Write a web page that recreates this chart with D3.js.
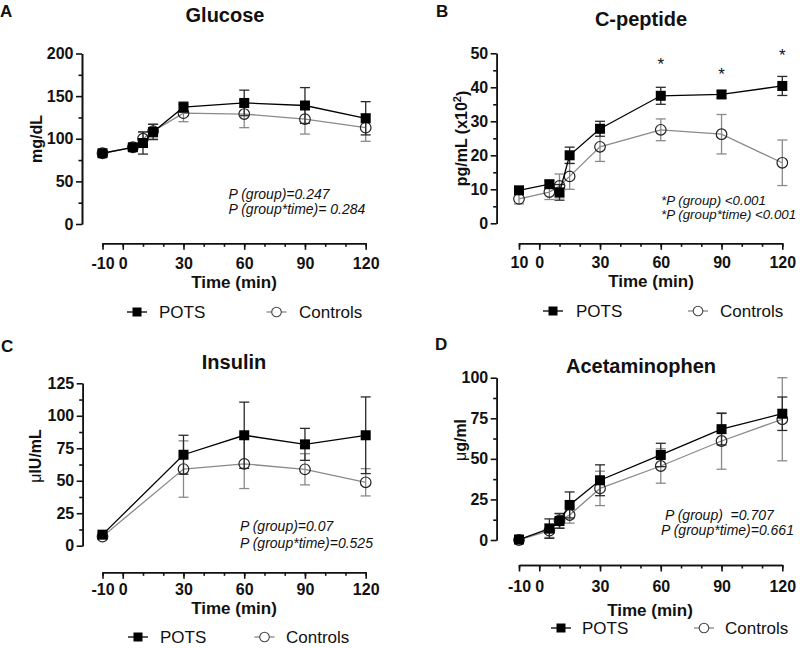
<!DOCTYPE html>
<html>
<head>
<meta charset="utf-8">
<script src="https://cdn.jsdelivr.net/npm/d3@7"></script>
<style>
html,body{margin:0;padding:0;background:#fff;}
svg{display:block;font-family:"Liberation Sans",Arial,Helvetica,sans-serif;}
</style>
</head>
<body>
<svg id="chart" width="800" height="648"></svg>
<script>
// ---------- DATA ----------
const times = [-10, 5, 10, 15, 30, 60, 90, 120];
const insulinTimes = [-10, 30, 60, 90, 120];
const xMinorTicks = [-10, 0, 10, 20, 30, 40, 50, 60, 70, 80, 90, 100, 110, 120];
const xMajorTicks = [-10, 0, 30, 60, 90, 120];
const xTickLabels = ["-10", "0", "30", "60", "90", "120"];
const xTickLabelsB = ["10", "0", "30", "60", "90", "120"];
const seriesNames = ["POTS", "Controls"];

// Glucose (mg/dL)
const glucosePOTS = [83, 90, 95, 108, 137, 142, 139, 124];
const glucosePOTSerr = [3, 4, 13, 9, 6, 15, 21, 19.5];
const glucoseCtrl = [83, 90, 100, 109, 130, 129, 123, 113];
const glucoseCtrlErr = [3, 4, 8, 8, 10, 16, 17.5, 16];
const glucoseTicks = [0, 50, 100, 150, 200];
const glucoseMinor = [25, 75, 125, 175];

// C-peptide (pg/mL x10^2)
const cpepPOTS = [9.7, 11.5, 9.1, 20, 27.8, 37.5, 37.9, 40.4];
const cpepPOTSerr = [0.8, 1, 2.3, 2.4, 2.2, 2.5, 1, 2.8];
const cpepCtrl = [7.2, 9.2, 11, 13.8, 22.5, 27.5, 26.2, 17.8];
const cpepCtrlErr = [1.5, 2.2, 3.5, 3.8, 4.3, 3.2, 5.8, 6.7];
const cpepTicks = [0, 10, 20, 30, 40, 50];
const cpepMinor = [5, 15, 25, 35, 45];
const cpepStarTimes = [60, 90, 120];
const cpepStarValues = [47.5, 44.5, 50.2];

// Insulin (µIU/mL)
const insulinPOTS = [8.5, 70, 85, 78, 85];
const insulinPOTSerr = [2, 15, 25.5, 12.3, 29.5];
const insulinCtrl = [7, 59, 63, 58.8, 48.8];
const insulinCtrlErr = [1.5, 21.7, 19, 12, 10.5];
const insulinTicks = [0, 25, 50, 75, 100, 125];
const insulinMinor = [12.5, 37.5, 62.5, 87.5, 112.5];

// Acetaminophen (µg/ml)
const acetPOTS = [0.3, 7, 11.7, 21.6, 36.8, 52.4, 68.3, 77.8];
const acetPOTSerr = [0.5, 6, 4.5, 8, 9.5, 7.2, 9.7, 10.3];
const acetCtrl = [0, 5.8, 12, 15.4, 31.8, 45.6, 61, 74.4];
const acetCtrlErr = [0.5, 4.2, 4.5, 5, 10.6, 10.6, 17.4, 25.6];
const acetTicks = [0, 25, 50, 75, 100];
const acetMinor = [12.5, 37.5, 62.5, 87.5];

// ---------- DRAW ----------
const svg = d3.select("#chart");
const FONT = '"Liberation Sans",Arial,Helvetica,sans-serif';

function panel(cfg) {
  const g = svg.append("g");
  const x = d3.scaleLinear().domain([-10, 120]).range(cfg.xRange);
  const y = d3.scaleLinear().domain(cfg.yDomain).range(cfg.yRange);

  // x axis (minor + major)
  const xMinor = d3.axisBottom(x).tickValues(xMinorTicks).tickSize(3.5).tickSizeOuter(0).tickFormat("");
  const xMajor = d3.axisBottom(x).tickValues(xMajorTicks).tickSize(6.5).tickSizeOuter(0)
    .tickPadding(cfg.xLabelOffset - 6.5 - 0.71 * 16)
    .tickFormat((d, i) => cfg.xLabels[i]);
  const gxm = g.append("g").attr("transform", `translate(0,${cfg.xAxisY})`).call(xMinor);
  const gx = g.append("g").attr("transform", `translate(0,${cfg.xAxisY})`).call(xMajor);
  [gxm, gx].forEach(a => {
    a.selectAll("path,line").attr("stroke", "#111").attr("stroke-width", 1.6);
    a.selectAll("text").attr("font-family", FONT).attr("font-size", 16).attr("font-weight", "bold").attr("fill", "#111");
  });

  // y axis (minor + major)
  const yMinor = d3.axisLeft(y).tickValues(cfg.yMinor).tickSize(3.5).tickSizeOuter(0).tickFormat("");
  const yMajor = d3.axisLeft(y).tickValues(cfg.yTicks).tickSize(6).tickSizeOuter(0).tickPadding(2.5);
  const gym = g.append("g").attr("transform", `translate(${cfg.yAxisX},0)`).call(yMinor);
  const gy = g.append("g").attr("transform", `translate(${cfg.yAxisX},0)`).call(yMajor);
  [gym, gy].forEach(a => {
    a.selectAll("path,line").attr("stroke", "#111").attr("stroke-width", 1.6);
    a.selectAll("text").attr("font-family", FONT).attr("font-size", 16).attr("font-weight", "bold").attr("fill", "#111");
  });

  const line = d3.line().x(d => x(d.t)).y(d => y(d.v));
  const mk = (ts, vs, es) => ts.map((t, i) => ({ t: t, v: vs[i], e: es[i] }));
  const ctrl = mk(cfg.times, cfg.ctrl, cfg.ctrlErr);
  const pots = mk(cfg.times, cfg.pots, cfg.potsErr);

  function errorBars(data, color) {
    const eg = g.append("g").attr("stroke", color).attr("stroke-width", 1.3).attr("fill", "none");
    data.forEach(d => {
      const x0 = x(d.t), y1 = y(d.v - d.e), y2 = y(d.v + d.e);
      eg.append("line").attr("x1", x0).attr("x2", x0).attr("y1", y1).attr("y2", y2);
      eg.append("line").attr("x1", x0 - 5).attr("x2", x0 + 5).attr("y1", y1).attr("y2", y1);
      eg.append("line").attr("x1", x0 - 5).attr("x2", x0 + 5).attr("y1", y2).attr("y2", y2);
    });
  }

  // Controls
  errorBars(ctrl, "#8a8a8a");
  g.append("path").datum(ctrl).attr("d", line).attr("fill", "none").attr("stroke", "#8a8a8a").attr("stroke-width", 1.3);
  g.append("g").selectAll("circle").data(ctrl).join("circle")
    .attr("cx", d => x(d.t)).attr("cy", d => y(d.v)).attr("r", 5.3)
    .attr("fill", "none").attr("stroke", "#222").attr("stroke-width", 1.2);

  // POTS
  errorBars(pots, "#2a2a2a");
  g.append("path").datum(pots).attr("d", line).attr("fill", "none").attr("stroke", "#000").attr("stroke-width", 1.3);
  g.append("g").selectAll("rect").data(pots).join("rect")
    .attr("x", d => x(d.t) - 5).attr("y", d => y(d.v) - 5).attr("width", 10).attr("height", 10)
    .attr("fill", "#000");

  // titles
  g.append("text").attr("x", cfg.titleX).attr("y", cfg.titleY).attr("text-anchor", "middle")
    .attr("font-size", 20).attr("font-weight", "bold").attr("fill", "#111").text(cfg.title);
  g.append("text").attr("x", cfg.letterX).attr("y", cfg.letterY)
    .attr("font-size", 17).attr("font-weight", "bold").attr("fill", "#111").text(cfg.letter);

  // y-axis title
  const yt = g.append("text").attr("transform", `translate(${cfg.yTitleX},${cfg.yTitleY}) rotate(-90)`)
    .attr("text-anchor", "middle").attr("dy", "0.35em")
    .attr("font-size", 16).attr("font-weight", "bold").attr("fill", "#111");
  cfg.yTitle(yt);

  // x-axis title
  g.append("text").attr("x", cfg.xTitleX).attr("y", cfg.xTitleY).attr("text-anchor", "middle")
    .attr("font-size", 17).attr("font-weight", "bold").attr("fill", "#111").text("Time (min)");

  // P-value annotation
  cfg.pText.forEach((p, i) => {
    g.append("text").attr("x", p.x).attr("y", p.y).attr("font-size", cfg.pSize || 14).attr("font-style", "italic")
      .attr("fill", "#111").attr("xml:space", "preserve").text(p.s);
  });

  // legend
  const lg = g.append("g");
  const L = cfg.legend;
  lg.append("line").attr("x1", L.px - 10).attr("x2", L.px + 10).attr("y1", L.y).attr("y2", L.y).attr("stroke", "#000").attr("stroke-width", 1.3);
  lg.append("rect").attr("x", L.px - 4.5).attr("y", L.y - 4.5).attr("width", 9).attr("height", 9).attr("fill", "#000");
  lg.append("text").attr("x", L.pt).attr("y", L.y + 6).attr("font-size", 17).attr("fill", "#111").text(seriesNames[0]);
  lg.append("line").attr("x1", L.cx - 10).attr("x2", L.cx + 10).attr("y1", L.y).attr("y2", L.y).attr("stroke", "#888").attr("stroke-width", 1.3);
  lg.append("circle").attr("cx", L.cx).attr("cy", L.y).attr("r", 4.8).attr("fill", "#fff").attr("stroke", "#444").attr("stroke-width", 1.1);
  lg.append("text").attr("x", L.ct).attr("y", L.y + 6).attr("font-size", 17).attr("fill", "#111").text(seriesNames[1]);

  return { g, x, y };
}

// Panel A
panel({
  times: times, pots: glucosePOTS, potsErr: glucosePOTSerr, ctrl: glucoseCtrl, ctrlErr: glucoseCtrlErr,
  xRange: [102.5, 365.7], yRange: [224, 53.5], yDomain: [0, 200], yTicks: glucoseTicks, yMinor: glucoseMinor,
  xAxisY: 243.3, yAxisX: 82, xLabels: xTickLabels, xLabelOffset: 25.5,
  title: "Glucose", titleX: 225, titleY: 22, letter: "A", letterX: 0, letterY: 17,
  yTitleX: 36, yTitleY: 139, yTitle: t => t.text("mg/dL"),
  xTitleX: 234, xTitleY: 288,
  pText: [{ x: 228.5, y: 199, s: "P (group)=0.247" }, { x: 228.5, y: 214, s: "P (group*time)= 0.284" }],
  legend: { y: 312, px: 137, pt: 159, cx: 276.5, ct: 299 }
});

// Panel B
const pB = panel({
  times: times, pots: cpepPOTS, potsErr: cpepPOTSerr, ctrl: cpepCtrl, ctrlErr: cpepCtrlErr,
  xRange: [519, 782.3], yRange: [223.3, 53.3], yDomain: [0, 50], yTicks: cpepTicks, yMinor: cpepMinor,
  xAxisY: 243.3, yAxisX: 496.7, xLabels: xTickLabelsB, xLabelOffset: 25,
  title: "C-peptide", titleX: 641, titleY: 25.5, letter: "B", letterX: 436, letterY: 17,
  yTitleX: 461.5, yTitleY: 138.5,
  yTitle: t => { t.append("tspan").text("pg/mL (x10"); t.append("tspan").attr("font-size", 11).attr("dy", "-0.6em").text("2"); t.append("tspan").attr("dy", "0.45em").text(")"); },
  xTitleX: 651, xTitleY: 287,
  pSize: 13.3,
  pText: [{ x: 661, y: 205, s: "*P (group) <0.001" }, { x: 661, y: 219, s: "*P (group*time) <0.001" }],
  legend: { y: 311, px: 553, pt: 576, cx: 698, ct: 720 }
});
pB.g.append("g").selectAll("text").data(cpepStarTimes).join("text")
  .attr("x", d => pB.x(d)).attr("y", (d, i) => pB.y(cpepStarValues[i]) + 8)
  .attr("text-anchor", "middle").attr("font-size", 17).attr("fill", "#111").text("*");

// Panel C
panel({
  times: insulinTimes, pots: insulinPOTS, potsErr: insulinPOTSerr, ctrl: insulinCtrl, ctrlErr: insulinCtrlErr,
  xRange: [102.5, 365.7], yRange: [545.7, 383.3], yDomain: [0, 125], yTicks: insulinTicks, yMinor: insulinMinor,
  xAxisY: 572.3, yAxisX: 82.7, xLabels: xTickLabels, xLabelOffset: 23,
  title: "Insulin", titleX: 234, titleY: 369, letter: "C", letterX: 1, letterY: 352,
  yTitleX: 35, yTitleY: 456,
  yTitle: t => { t.append("tspan").attr("font-weight", "normal").text("\u03BC"); t.append("tspan").text("IU/mL"); },
  xTitleX: 234, xTitleY: 614,
  pText: [{ x: 240, y: 530.5, s: "P (group)=0.07" }, { x: 240, y: 547.5, s: "P (group*time)=0.525" }],
  legend: { y: 637, px: 138, pt: 160, cx: 264.5, ct: 286 }
});

// Panel D
panel({
  times: times, pots: acetPOTS, potsErr: acetPOTSerr, ctrl: acetCtrl, ctrlErr: acetCtrlErr,
  xRange: [519, 782.3], yRange: [540, 377.7], yDomain: [0, 100], yTicks: acetTicks, yMinor: acetMinor,
  xAxisY: 565, yAxisX: 496.7, xLabels: xTickLabels, xLabelOffset: 27,
  title: "Acetaminophen", titleX: 641, titleY: 373, letter: "D", letterX: 435, letterY: 350,
  yTitleX: 460, yTitleY: 440,
  yTitle: t => { t.append("tspan").attr("font-weight", "normal").text("\u03BC"); t.append("tspan").text("g/ml"); },
  xTitleX: 650, xTitleY: 616,
  pText: [{ x: 665, y: 519.5, s: "P (group)  =0.707" }, { x: 661, y: 534.5, s: "P (group*time)=0.661" }],
  legend: { y: 628, px: 561, pt: 582, cx: 704, ct: 725 }
});
</script>
</body>
</html>
